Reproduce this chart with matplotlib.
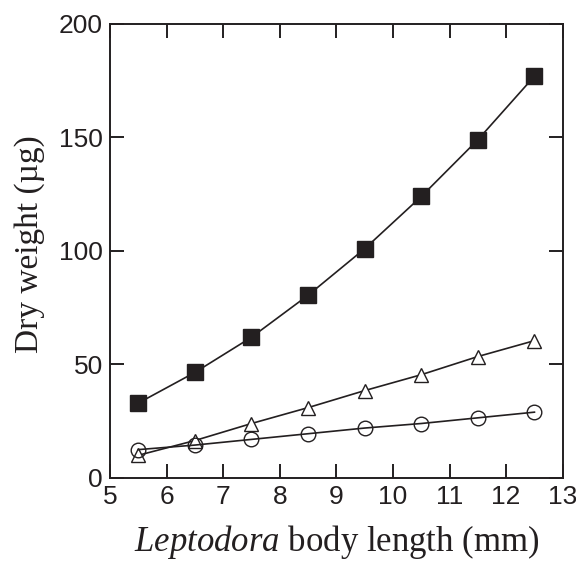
import matplotlib
matplotlib.use("Agg")
import matplotlib.pyplot as plt

plt.rcParams["mathtext.fontset"] = "custom"
plt.rcParams["mathtext.it"] = "Liberation Serif:italic"
plt.rcParams["mathtext.rm"] = "Liberation Serif"

x = [5.5, 6.5, 7.5, 8.5, 9.5, 10.5, 11.5, 12.5]
squares = [33, 46.5, 62, 80.5, 101, 124, 149, 177]
triangles = [10, 16.5, 24, 31, 38.5, 45.5, 53.5, 60.5]
circles = [12.5, 14.5, 17, 19.5, 22, 24, 26.5, 29]
xticks = [5, 6, 7, 8, 9, 10, 11, 12, 13]
yticks = [0, 50, 100, 150, 200]

fig = plt.figure(figsize=(5.76, 5.64), dpi=100)
ax = fig.add_axes([0.191, 0.1525, 0.786, 0.805])

lc = "#231f20"
ax.plot(x, squares, color=lc, lw=1.2, marker="s", ms=11, mfc=lc, mec=lc)
ax.plot(x, triangles, color=lc, lw=1.2, marker="^", ms=10.5, mfc="white", mec=lc, mew=1.0)
ax.plot(x, circles, color=lc, lw=1.2, marker="o", ms=10.5, mfc="none", mec=lc, mew=1.0)

ax.set_xlim(5, 13)
ax.set_ylim(0, 200)
ax.set_xticks(xticks)
ax.set_yticks(yticks)
ax.tick_params(direction="in", length=10, width=1.4, top=True, right=True,
               labelsize=19, colors=lc, pad=5)
for lab in ax.get_xticklabels() + ax.get_yticklabels():
    lab.set_fontfamily("Liberation Sans")
for s in ax.spines.values():
    s.set_linewidth(1.4)
    s.set_color(lc)

ax.set_ylabel("Dry weight (\u00b5g)", fontfamily="Liberation Serif", fontsize=24, color=lc)
ax.yaxis.set_label_coords(-0.143, 0.515)
ax.set_xlabel("$\\it{Leptodora}$ body length (mm)", fontfamily="Liberation Serif",
              fontsize=25, color=lc, labelpad=10)

fig.savefig("out.png", dpi=100)
